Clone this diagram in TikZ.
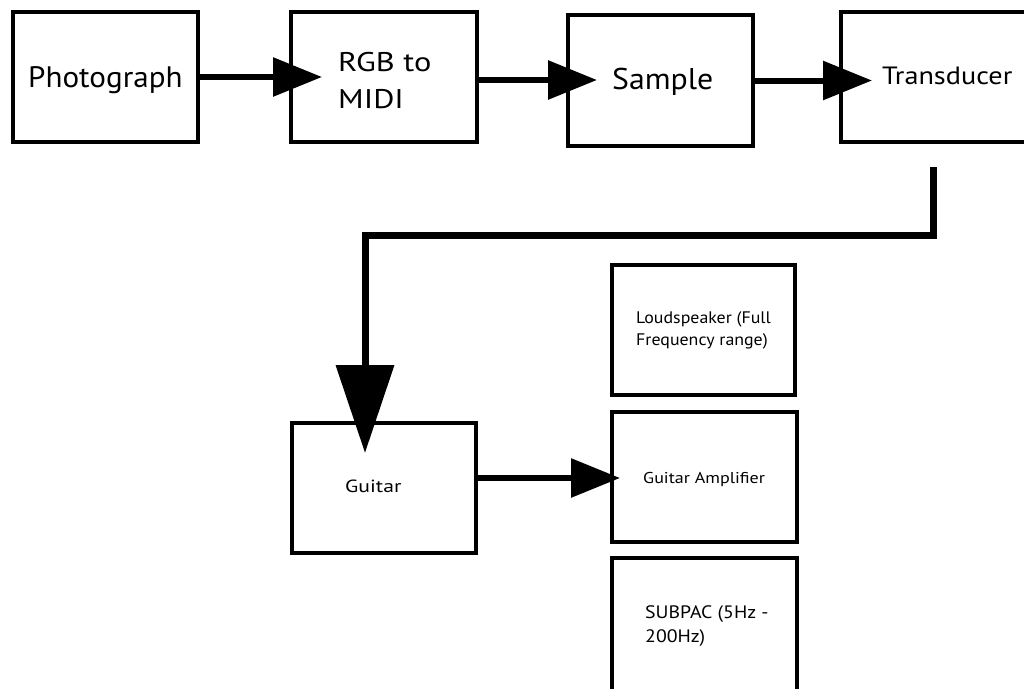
\documentclass[tikz,border=0pt]{standalone}
\usepackage{graphicx}
\usepackage{fontspec}
\setmainfont{PT Sans}
\usetikzlibrary{arrows.meta,calc}
\newcommand{\wtext}[2]{\scalebox{#1}[1]{#2}}
\begin{document}
\begin{tikzpicture}[x=1pt,y=-1pt,
  box/.style={draw, line width=4pt, minimum width=185pt, minimum height=130pt, inner sep=0pt, outer sep=0pt},
  lbl/.style={anchor=base west, inner sep=0pt},
  conn/.style={line width=6pt, -{Triangle[length=49pt,width=38pt]}},
  bigconn/.style={line width=7pt, -{Triangle[length=88pt,width=57pt]}}]
\useasboundingbox (0,0) rectangle (1024,688);
% boxes
\node[box] (photo) at (105,77) {};
\node[box, minimum width=186pt] (rgb) at (384,77) {};
\node[box, minimum height=131pt] (sample) at (660.5,80.5) {};
\node[box] (trans) at (933.5,77) {};
\node[box, minimum width=184pt] (guitar) at (384,488) {};
\node[box, minimum width=183pt] (speaker) at (703.5,330) {};
\node[box] (amp) at (704.5,477) {};
\node[box, minimum height=140pt] (subpac) at (704.5,628) {};
% texts
\node[lbl, font=\fontsize{29.6}{34}\selectfont] (tphoto) at (28,87) {\wtext{1.05}{Photograph}};
\node[lbl, font=\fontsize{27}{32}\selectfont] (trgb1) at (338,71) {\wtext{1.2}{RGB to}};
\node[lbl, font=\fontsize{27}{32}\selectfont] (trgb2) at (338,108) {\wtext{1.2}{MIDI}};
\node[lbl, font=\fontsize{30}{36}\selectfont] (tsample) at (612,89.5) {\wtext{1.06}{Sample}};
\node[lbl, font=\fontsize{25}{30}\selectfont] (ttrans) at (882,84.5) {\wtext{1.13}{Transducer}};
\node[lbl, font=\fontsize{17.6}{21}\selectfont] (tguitar) at (345,492) {\wtext{1.23}{Guitar}};
\node[lbl, font=\fontsize{16.7}{20}\selectfont] (tspk1) at (636,323) {\wtext{1.07}{Loudspeaker (Full}};
\node[lbl, font=\fontsize{16.7}{20}\selectfont] (tspk2) at (636,345) {\wtext{1.07}{Frequency range)}};
\node[lbl, font=\fontsize{15.7}{19}\selectfont] (tamp) at (643,483) {\wtext{1.15}{Guitar Amplifier}};
\node[lbl, font=\fontsize{18}{22}\selectfont] (tsub1) at (645,618) {\wtext{1.1}{SUBPAC (5Hz -}};
\node[lbl, font=\fontsize{18}{22}\selectfont] (tsub2) at (645,642) {\wtext{1.1}{200Hz)}};
% connectors
\draw[conn] (photo.east) -- ([xshift=31pt]rgb.west |- photo.east);
\draw[conn] ([yshift=-3pt]rgb.east) -- ([xshift=29pt,yshift=-3pt]sample.west |- rgb.east);
\draw[conn] (sample.east) -- ([xshift=31pt]trans.west |- sample.east);
\coordinate (tb) at ([yshift=-25pt]trans.south);
\draw[bigconn] (tb) -- ++(0,68) -| ([xshift=-19pt,yshift=-30pt]guitar.north);
\draw[conn] ([yshift=10pt]guitar.east) -- ([xshift=8pt,yshift=10pt]amp.west |- guitar.east);
\end{tikzpicture}
\end{document}
